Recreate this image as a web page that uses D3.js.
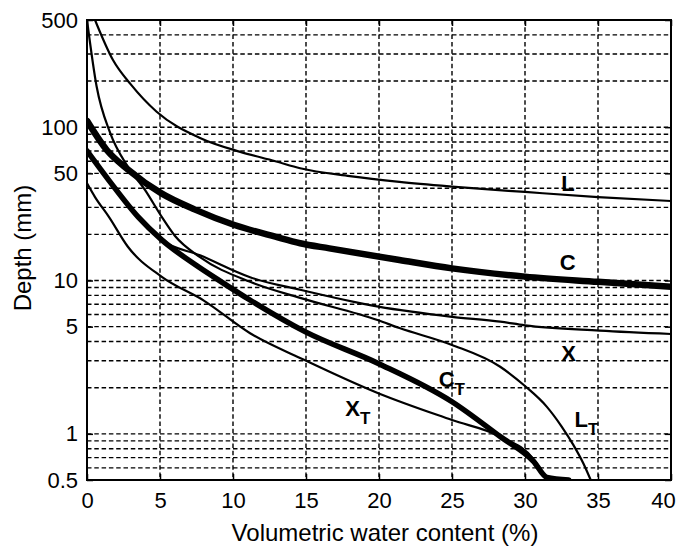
<!DOCTYPE html>
<html>
<head>
<meta charset="utf-8">
<script src="https://cdn.jsdelivr.net/npm/d3@7"></script>
<style>
  body { margin: 0; background: #fff; }
  text { font-family: "Liberation Sans", Arial, sans-serif; fill: #000; }
</style>
</head>
<body>
<script>
//Tick labels for both axes
var xTicks = [0, 5, 10, 15, 20, 25, 30, 35, 40];
var yTicks = [0.5, 1, 5, 10, 50, 100, 500];

//Curve L (thin)
var lWater = [0.55, 1.78, 3, 4.77, 7.74, 10.5, 12.9, 14.6, 18, 21.4, 25, 30, 35, 40];
var lDepth = [500, 274, 190, 126, 85, 69, 60, 54, 48, 44, 41, 37.8, 35, 33];

//Curve C (thick)
var cWater = [0, 1.35, 2.8, 5.1, 7.4, 10.1, 12.9, 14.6, 16.6, 21.4, 25, 30, 35, 40];
var cDepth = [110, 71, 53, 37, 29, 23, 19.3, 17.5, 16.2, 13.6, 12, 10.6, 9.8, 9.1];

//Curve X (thin)
var xWater = [0, 1.5, 3.5, 5.1, 7.74, 11.17, 14.6, 19.95, 25, 28.3, 30, 35.1, 40];
var xDepth = [70, 45, 26, 18.4, 14.6, 10.5, 8.7, 6.75, 5.8, 5.39, 5.1, 4.71, 4.48];

//Curve LT (thin)
var ltWater = [0, 0.66, 1.58, 2.81, 3.97, 5.12, 6.03, 7.74, 11.17, 14.6, 19.95, 21.4, 25, 28.3, 30, 31.5, 32.5, 33.3, 34, 34.5];
var ltDepth = [500, 184, 92, 55, 39, 26, 19.5, 14.2, 9.8, 7.7, 5.5, 4.9, 3.8, 2.74, 2.05, 1.5, 1.12, 0.85, 0.64, 0.5];

//Curve CT (thick)
var ctWater = [0, 1.5, 3.5, 5.12, 7.4, 9.2, 11.16, 14.93, 19.95, 25, 28.3, 30.6, 31.5, 33];
var ctDepth = [70, 45, 26, 18.4, 12.7, 9.8, 7.46, 4.64, 2.88, 1.62, 0.96, 0.66, 0.52, 0.5];

//Curve XT (thin)
var xtWater = [0, 0.55, 1.5, 2.8, 5.1, 8, 11.17, 14.9, 19.95, 25, 28.3, 30.6, 31.5];
var xtDepth = [43, 35, 26, 16.6, 10.6, 7.4, 4.53, 3.03, 1.84, 1.23, 0.96, 0.68, 0.5];

//Curve labels (main letter, subscript, and where the letter sits)
var labelText = ["L", "C", "X", "C", "X", "L"];
var labelSub = ["", "", "", "T", "T", "T"];
var labelWater = [33.0, 32.9, 33.0, 24.6, 18.2, 33.9];
var labelDepth = [43.2, 13.3, 3.37, 2.28, 1.47, 1.25];

function main(){

  var w = 677;
  var h = 546;
  var left = 87, right = 671, top = 20, bottom = 480;

  var x = d3.scaleLinear().domain([0, 40]).range([left, right]);
  var y = d3.scaleLog().domain([0.5, 500]).range([bottom, top]);

  var svg = d3.select("body")
              .append("svg")
              .attr("width", w)
              .attr("height", h);

  svg.append("defs").append("clipPath")
    .attr("id", "plot")
    .append("rect")
    .attr("x", left)
    .attr("y", top)
    .attr("width", right - left)
    .attr("height", bottom - top);

  //dashed grid
  var grid = svg.append("g")
    .attr("stroke", "#000")
    .attr("stroke-width", 1.4)
    .attr("stroke-dasharray", "4.5,2.8");

  grid.selectAll("line.h")
    .data(y.ticks().filter(function(d){ return d > 0.5 && d < 500; }))
    .enter()
    .append("line")
    .attr("class", "h")
    .attr("x1", left)
    .attr("x2", right)
    .attr("y1", function(d){ return y(d); })
    .attr("y2", function(d){ return y(d); });

  grid.selectAll("line.v")
    .data(xTicks.filter(function(d){ return d > 0 && d < 40; }))
    .enter()
    .append("line")
    .attr("class", "v")
    .attr("y1", top)
    .attr("y2", bottom)
    .attr("x1", function(d){ return x(d); })
    .attr("x2", function(d){ return x(d); });

  //the curves
  var curves = [
    {water: lWater, depth: lDepth, width: 2.2},
    {water: cWater, depth: cDepth, width: 6.5},
    {water: xWater, depth: xDepth, width: 2.2},
    {water: ltWater, depth: ltDepth, width: 2.2},
    {water: ctWater, depth: ctDepth, width: 5.5},
    {water: xtWater, depth: xtDepth, width: 2.2}
  ];

  var line = d3.line()
    .x(function(d){ return x(d[0]); })
    .y(function(d){ return y(d[1]); })
    .curve(d3.curveMonotoneX);

  svg.append("g")
    .attr("clip-path", "url(#plot)")
    .selectAll("path")
    .data(curves)
    .enter()
    .append("path")
    .attr("fill", "none")
    .attr("stroke", "#000")
    .attr("stroke-linejoin", "round")
    .attr("stroke-linecap", "round")
    .attr("stroke-width", function(d){ return d.width; })
    .attr("d", function(d){
      return line(d.water.map(function(v, i){ return [v, d.depth[i]]; }));
    });

  //axes, ticks point inward
  var xAxis = svg.append("g")
    .attr("transform", "translate(0," + bottom + ")")
    .call(d3.axisBottom(x).tickValues(xTicks).tickSize(-6).tickPadding(12).tickFormat(d3.format("d")));
  var xTop = svg.append("g")
    .attr("transform", "translate(0," + top + ")")
    .call(d3.axisTop(x).tickValues(xTicks).tickSize(-6).tickFormat(""));
  var yAxis = svg.append("g")
    .attr("transform", "translate(" + left + ",0)")
    .call(d3.axisLeft(y).tickValues(yTicks).tickSize(-6).tickPadding(9).tickFormat(function(d){ return d; }));
  var yRight = svg.append("g")
    .attr("transform", "translate(" + right + ",0)")
    .call(d3.axisRight(y).tickValues(yTicks).tickSize(-6).tickFormat(""));

  [xAxis, xTop, yAxis, yRight].forEach(function(a){
    a.select(".domain").remove();
    a.selectAll(".tick line").attr("stroke", "#000").attr("stroke-width", 1.5);
    a.selectAll("text").attr("font-size", 22).attr("fill", "#000")
      .style("font-family", "'Liberation Sans', Arial, sans-serif");
  });

  //the last x label sits a bit inside, as in the original
  xAxis.selectAll(".tick text")
    .filter(function(d){ return d === 40; })
    .attr("x", -8);

  //frame
  svg.append("rect")
    .attr("x", left)
    .attr("y", top)
    .attr("width", right - left)
    .attr("height", bottom - top)
    .attr("fill", "none")
    .attr("stroke", "#000")
    .attr("stroke-width", 2);

  //curve labels
  var labels = svg.selectAll("text.lab")
    .data(labelText)
    .enter()
    .append("text")
    .attr("class", "lab")
    .attr("font-weight", "bold")
    .attr("font-size", 22)
    .attr("x", function(d, i){ return x(labelWater[i]) - 7.5; })
    .attr("y", function(d, i){ return y(labelDepth[i]) + 8; })
    .text(function(d){ return d; });

  labels.append("tspan")
    .attr("font-size", 17)
    .attr("dx", 0)
    .attr("dy", 8)
    .text(function(d, i){ return labelSub[i]; });

  //axis titles
  svg.append("text")
    .attr("x", 385)
    .attr("y", 541)
    .attr("text-anchor", "middle")
    .attr("font-size", 24)
    .text("Volumetric water content (%)");

  svg.append("text")
    .attr("transform", "translate(31,248) rotate(-90)")
    .attr("text-anchor", "middle")
    .attr("font-size", 24)
    .text("Depth (mm)");
}

window.onload = function() {
  main();
};
</script>
</body>
</html>
